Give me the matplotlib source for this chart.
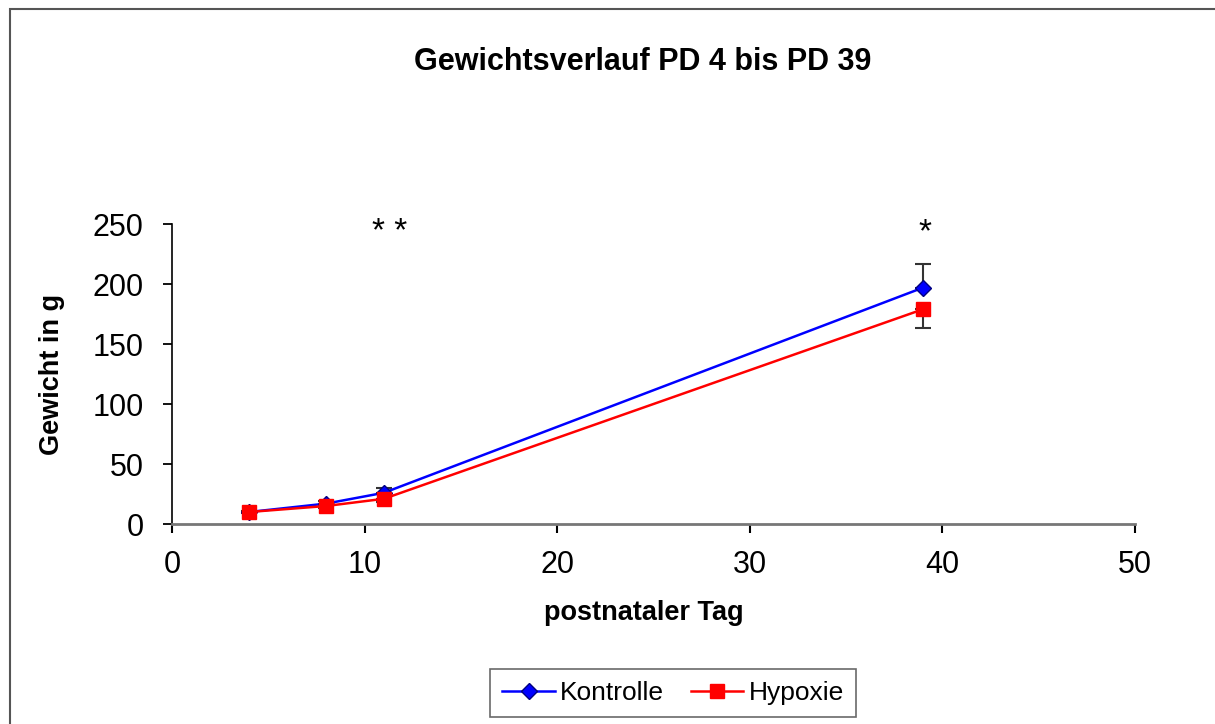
import matplotlib
matplotlib.use("Agg")
import matplotlib.pyplot as plt
from matplotlib.patches import Rectangle

plt.rcParams["font.family"] = ["Liberation Sans", "DejaVu Sans"]

# postnatal days and weights (g)
days = [4, 8, 11, 39]
kontrolle = [10, 17, 26, 197]
hypoxie = [10, 15, 21, 179]
kontrolle_sd = [1, 2, 4, 20]
hypoxie_sd = [1, 2, 3, 16]

stars_x = [11.3, 39.1]
stars_y = [236, 236]
stars_text = ["* *", "*"]

fig = plt.figure(figsize=(12.15, 7.24), dpi=100)
ax = fig.add_axes([172 / 1215, 1 - 524 / 724, 963 / 1215, 300 / 724])

# Kontrolle error bars point up, Hypoxie error bars point down
ax.errorbar(days, kontrolle, yerr=[[0] * 4, kontrolle_sd], fmt="none",
            ecolor="#333333", elinewidth=1.5, capsize=6, capthick=1.5, zorder=2)
ax.errorbar(days, hypoxie, yerr=[hypoxie_sd, [0] * 4], fmt="none",
            ecolor="#333333", elinewidth=1.5, capsize=6, capthick=1.5, zorder=2)

ax.plot(days, kontrolle, color="blue", lw=1.8, marker="D", ms=8,
        mfc="blue", mec="navy", label="Kontrolle", zorder=3)
ax.plot(days, hypoxie, color="red", lw=1.8, marker="s", ms=10.5,
        mfc="red", mec="red", label="Hypoxie", zorder=4)

for x, y, s in zip(stars_x, stars_y, stars_text):
    ax.text(x, y, s, fontsize=24, ha="center", va="baseline")

ax.set_xlim(0, 50)
ax.set_ylim(0, 250)
ax.set_xticks(range(0, 51, 10))
ax.set_yticks(range(0, 251, 50))
ax.tick_params(labelsize=22)
ax.tick_params(axis="x", direction="out", length=6.5, width=1.5, pad=12)
ax.tick_params(axis="y", direction="out", length=6.5, width=1.3, pad=14)

ax.spines["top"].set_visible(False)
ax.spines["right"].set_visible(False)
ax.spines["left"].set_linewidth(1.2)
ax.spines["bottom"].set_color("#777777")
ax.spines["bottom"].set_linewidth(2)

ax.set_xlabel("postnataler Tag", fontsize=19.5, fontweight="bold")
ax.set_ylabel("Gewicht in g", fontsize=19.5, fontweight="bold")
ax.xaxis.set_label_coords(0.49, -0.255)
ax.yaxis.set_label_coords(-0.111, 0.497)

fig.text(0.529, 1 - 62 / 724, "Gewichtsverlauf PD 4 bis PD 39",
         fontsize=22, fontweight="bold", ha="center", va="center")

leg = fig.legend(loc="center", bbox_to_anchor=(673 / 1215, 1 - 693 / 724),
                 ncol=2, fontsize=19, frameon=True, fancybox=False,
                 handlelength=2.0, handletextpad=0.2, columnspacing=1.0,
                 borderpad=0.45, borderaxespad=0)
leg.get_frame().set_edgecolor("#444444")
leg.get_frame().set_linewidth(1.2)

# outer frame of the chart area
fig.patches.append(Rectangle((10 / 1215, -0.2), 1.2, 1.2 - 9 / 724,
                             transform=fig.transFigure, fill=False,
                             edgecolor="#555555", lw=1.5))

fig.savefig("out.png", dpi=100)
